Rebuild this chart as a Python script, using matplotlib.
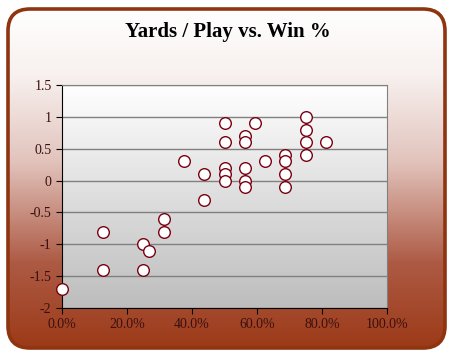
import numpy as np
import matplotlib
matplotlib.use("Agg")
import matplotlib.pyplot as plt
from matplotlib.patches import FancyBboxPatch
from matplotlib.colors import LinearSegmentedColormap
from matplotlib.ticker import PercentFormatter

# win % (as fraction) and yards/play differential
win_pct = [0.0, 0.125, 0.125, 0.25, 0.25, 0.267, 0.3125, 0.3125, 0.375,
           0.4375, 0.4375, 0.5, 0.5, 0.5, 0.5, 0.5,
           0.5625, 0.5625, 0.5625, 0.5625, 0.5625, 0.594, 0.625,
           0.6875, 0.6875, 0.6875, 0.6875, 0.75, 0.75, 0.75, 0.75, 0.8125]
ypp = [-1.7, -0.8, -1.4, -1.0, -1.4, -1.1, -0.6, -0.8, 0.3,
       0.1, -0.3, 0.9, 0.6, 0.2, 0.1, 0.0,
       0.7, 0.6, 0.2, 0.0, -0.1, 0.9, 0.3,
       0.4, 0.3, 0.1, -0.1, 1.0, 0.8, 0.6, 0.4, 0.6]
y_ticks = [-2, -1.5, -1, -0.5, 0, 0.5, 1, 1.5]
x_ticks = [0, 0.2, 0.4, 0.6, 0.8, 1.0]

W, H = 455, 358
fig = plt.figure(figsize=(W / 100, H / 100), dpi=100)
fig.patch.set_facecolor("white")

# background with rounded border and white->rust gradient
bg = fig.add_axes([0, 0, 1, 1])
bg.set_xlim(0, W)
bg.set_ylim(0, H)
bg.axis("off")
bg_cmap = LinearSegmentedColormap.from_list(
    "bg", [(0, "#9c3a18"), (0.25, "#ad5a44"), (0.55, "#e2c3bc"), (0.8, "#f7f0ee"), (1, "#ffffff")])
grad = np.linspace(0, 1, 256).reshape(-1, 1)
box = FancyBboxPatch((8, 10), 437, 339, boxstyle="round,pad=0,rounding_size=22",
                     facecolor="none", edgecolor="#8e3510", lw=2.6, zorder=3)
im = bg.imshow(grad, cmap=bg_cmap, origin="lower", extent=(8, 445, 10, 349), aspect="auto", zorder=1)
bg.add_patch(box)
im.set_clip_path(box)

# plot area
ax = fig.add_axes([62 / W, 1 - 308 / H, 325 / W, 223 / H])
ax.set_xlim(0, 1)
ax.set_ylim(-2, 1.5)
pa_cmap = LinearSegmentedColormap.from_list("pa", ["#bdbdbd", "#ffffff"])
ax.imshow(grad, cmap=pa_cmap, origin="lower", extent=(0, 1, -2, 1.5), aspect="auto", zorder=0)
ax.set_yticks(y_ticks)
ax.set_xticks(x_ticks)
ax.yaxis.grid(True, color="#808080", lw=1)
ax.set_axisbelow(True)
ax.xaxis.set_major_formatter(PercentFormatter(1.0, decimals=1))
ax.set_yticklabels([f"{v:g}" for v in y_ticks])
for s in ["top", "right"]:
    ax.spines[s].set_color("#808080")
for s in ["left", "bottom"]:
    ax.spines[s].set_color("black")
ax.tick_params(direction="out", length=4, color="black", labelsize=10,
               labelcolor="#3a1010")
for lab in ax.get_xticklabels() + ax.get_yticklabels():
    lab.set_family("Liberation Serif")

ax.scatter(win_pct, ypp, s=70, facecolor="white", edgecolor="#7a0010", lw=1,
           zorder=3, clip_on=False)

fig.text(0.5, 1 - 32 / H, "Yards / Play vs. Win %", ha="center", va="center",
         fontsize=15, fontweight="bold", family="Liberation Serif")

fig.savefig("out.png", dpi=100)
